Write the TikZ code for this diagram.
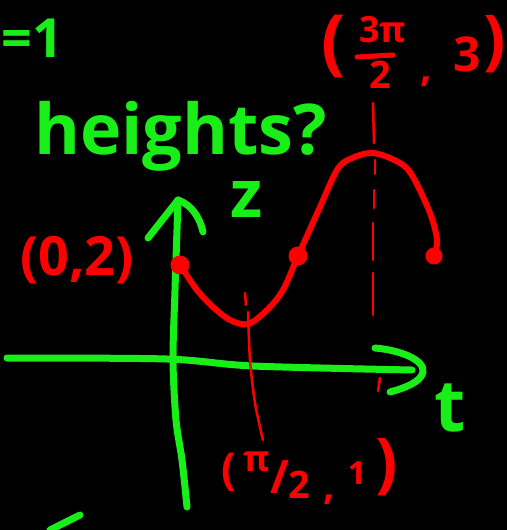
\documentclass[tikz,border=0pt]{standalone}
\usepackage{fontspec}
\setmainfont{Open Sans}
\definecolor{pgreen}{RGB}{25,238,25}
\definecolor{pred}{RGB}{255,0,0}
\begin{document}
\begin{tikzpicture}[x=1pt,y=-1pt,
  greenpen/.style={draw=pgreen, line width=7pt, line cap=round, line join=round},
  redpen/.style={draw=pred, line width=6pt, line cap=round, line join=round},
  reddash/.style={draw=pred, line width=2.5pt, line cap=round},
  dotnode/.style={circle, fill=pred, inner sep=0pt, minimum size=19pt},
  gtext/.style={text=pgreen, inner sep=0pt},
  rtext/.style={text=pred, inner sep=0pt}]
\fill[black] (0,0) rectangle (507,530);
\useasboundingbox (0,0) rectangle (507,530);

% axes
\coordinate (vbot) at (187,507);
\coordinate (vtop) at (178,200);
\coordinate (hleft) at (7,358);
\coordinate (hright) at (412,370);
\draw[greenpen] plot[smooth] coordinates {(vbot) (182,460) (176,420) (173,360) (175,290) (vtop)};
\draw[greenpen] (148,238) -- (vtop) .. controls (192,205) and (200,218) .. (203,232);
\draw[greenpen] plot[smooth] coordinates {(hleft) (167,359) (253,366) (hright)};
\draw[greenpen] (375,348) .. controls (400,350) and (425,360) .. (423,372) .. controls (421,382) and (405,388) .. (390,392);
\draw[greenpen] (50,530) -- (80,515);

% dashed guide lines
\draw[reddash] (373,103) -- (374,143);
\draw[reddash] (375,160) -- (375,174);
\draw[reddash] (374,190) -- (374,208);
\draw[reddash] (373,223) -- (373,260);
\draw[reddash] (373,273) -- (373,315);
\draw[reddash] (380,378) -- (378,391);
\draw[reddash] (245,293) -- (246,305);
\draw[reddash] plot[smooth] coordinates {(248,312) (250,360) (255,403) (263,440)};

% curve
\node[dotnode] (p0) at (180,265) {};
\node[dotnode] (p1) at (298,256) {};
\node[dotnode, minimum size=17pt] (p2) at (434,256) {};
\draw[redpen] plot[smooth, tension=0.55] coordinates {(p0) (197,290) (213,307) (230,320) (248,324) (267,310) (283,290) (p1) (320,207) (337,170) (350,159) (373,153) (400,163) (413,177) (430,213) (437,240) (p2)};

% green texts
\node[gtext, anchor=west, font=\bfseries\fontsize{54}{56}\selectfont] (eq) at (1,38) {=1};
\node[gtext, anchor=base west, font=\bfseries\fontsize{70}{72}\selectfont] (hq) at (34,154) {heights?};
\node[gtext, anchor=base, font=\bfseries\fontsize{66}{68}\selectfont] (zl) at (247,217) {z};
\node[gtext, anchor=base, font=\bfseries\fontsize{72}{74}\selectfont] (tl) at (450,431) {t};

% red texts
\node[rtext, font=\bfseries\fontsize{54}{56}\selectfont] (l02) at (77,260) {(0,2)};
\node[rtext, font=\bfseries\fontsize{72}{74}\selectfont] (lpa) at (334,46) {(};
\node[rtext, font=\bfseries\fontsize{36}{38}\selectfont] (lnum) at (383,30) {3π};
\draw[redpen, line width=5pt] (357,57) -- (393,55);
\node[rtext, font=\bfseries\fontsize{38}{40}\selectfont] (lden) at (380,75) {2};
\node[rtext, font=\bfseries\fontsize{40}{42}\selectfont] (lc1) at (426,82) {,};
\node[rtext, font=\bfseries\fontsize{48}{50}\selectfont] (l3) at (467,54) {3};
\node[rtext, font=\bfseries\fontsize{66}{68}\selectfont] (lpb) at (495,44) {)};
\node[rtext, font=\bfseries\fontsize{44}{46}\selectfont] (lpc) at (229,472) {(};
\node[rtext, font=\bfseries\fontsize{36}{38}\selectfont] (lpi) at (257,462) {π};
\node[rtext, font=\bfseries\fontsize{46}{48}\selectfont] (lsl) at (280,477) {/};
\node[rtext, font=\bfseries\fontsize{38}{40}\selectfont] (l2b) at (299,485) {2};
\node[rtext, font=\bfseries\fontsize{40}{42}\selectfont] (lc2) at (329,500) {,};
\node[rtext, font=\bfseries\fontsize{32}{34}\selectfont] (l1) at (357,473) {1};
\node[rtext, font=\bfseries\fontsize{66}{68}\selectfont] (lpd) at (387,467) {)};
\end{tikzpicture}
\end{document}
